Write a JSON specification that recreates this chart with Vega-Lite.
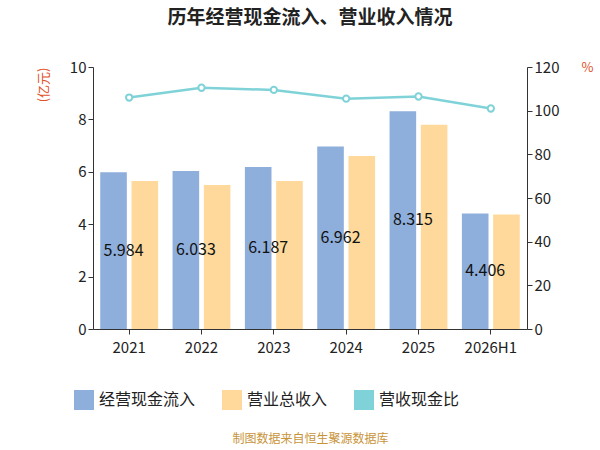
{
  "$schema": "https://vega.github.io/schema/vega-lite/v6.json",
  "width": 434,
  "height": 262,
  "autosize": "none",
  "padding": {"left": 93, "top": 67, "right": 73, "bottom": 121},
  "title": {"text": "历年经营现金流入、营业收入情况", "fontSize": 19, "font": "Noto Sans CJK SC", "fontWeight": "bold", "color": "#222", "offset": 32, "anchor": "middle"},
  "config": {"font": "Noto Sans CJK SC", "view": {"stroke": null}},
  "datasets": {
    "bars": [
      {"year": "2021", "type": "经营现金流入", "value": 5.984},
      {"year": "2021", "type": "营业总收入", "value": 5.65},
      {"year": "2022", "type": "经营现金流入", "value": 6.033},
      {"year": "2022", "type": "营业总收入", "value": 5.5},
      {"year": "2023", "type": "经营现金流入", "value": 6.187},
      {"year": "2023", "type": "营业总收入", "value": 5.65},
      {"year": "2024", "type": "经营现金流入", "value": 6.962},
      {"year": "2024", "type": "营业总收入", "value": 6.6},
      {"year": "2025", "type": "经营现金流入", "value": 8.315},
      {"year": "2025", "type": "营业总收入", "value": 7.8},
      {"year": "2026H1", "type": "经营现金流入", "value": 4.406},
      {"year": "2026H1", "type": "营业总收入", "value": 4.37}
    ],
    "ratio": [
      {"year": "2021", "type": "营收现金比", "ratio": 106},
      {"year": "2022", "type": "营收现金比", "ratio": 110.5},
      {"year": "2023", "type": "营收现金比", "ratio": 109.5},
      {"year": "2024", "type": "营收现金比", "ratio": 105.5},
      {"year": "2025", "type": "营收现金比", "ratio": 106.5},
      {"year": "2026H1", "type": "营收现金比", "ratio": 101}
    ]
  },
  "encoding": {
    "x": {"field": "year", "type": "nominal", "scale": {"paddingInner": 0.2, "paddingOuter": 0.1},
      "axis": {"labelAngle": 0, "labelFontSize": 15, "labelColor": "#222", "domainColor": "#333", "tickColor": "#333", "labelPadding": 6,
        "title": "制图数据来自恒生聚源数据库", "titleColor": "#c8943a", "titleFontSize": 12, "titleFontWeight": "normal", "titlePadding": 78}}
  },
  "layer": [
    {
      "data": {"name": "bars"},
      "mark": {"type": "bar"},
      "encoding": {
        "xOffset": {"field": "type", "scale": {"paddingInner": 0.15}},
        "y": {"field": "value", "type": "quantitative", "scale": {"domain": [0, 10]},
          "axis": {"values": [0, 2, 4, 6, 8, 10], "grid": false, "labelFontSize": 15, "labelColor": "#222", "domainColor": "#333", "tickColor": "#333",
            "title": "(亿元)", "titleColor": "#e0502a", "titleFontSize": 13, "titleFontWeight": "normal", "titleAngle": 270, "titleX": -50, "titleY": 0, "titleAlign": "right", "titleBaseline": "middle"}},
        "color": {"field": "type", "type": "nominal", "title": null,
          "scale": {"domain": ["经营现金流入", "营业总收入", "营收现金比"], "range": ["#8eaedb", "#fed99b", "#7fd3d8"]},
          "legend": {"orient": "none", "legendX": -20, "legendY": 322, "direction": "horizontal", "labelFontSize": 16, "labelColor": "#222", "symbolSize": 400, "symbolType": "square", "columnPadding": 25}}
      }
    },
    {
      "data": {"name": "bars"},
      "transform": [{"filter": "datum.type === '经营现金流入'"}, {"calculate": "datum.value / 2", "as": "mid"}],
      "mark": {"type": "text", "fontSize": 16, "color": "#111", "dx": 10},
      "encoding": {
        "xOffset": {"field": "type"},
        "y": {"field": "mid", "type": "quantitative", "scale": {"domain": [0, 10]}, "axis": null},
        "text": {"field": "value", "type": "quantitative", "format": ".3f"}
      }
    },
    {
      "data": {"name": "ratio"},
      "mark": {"type": "line", "color": "#7fd3d8", "strokeWidth": 2.5, "point": {"filled": true, "fill": "white", "stroke": "#7fd3d8", "size": 40, "strokeWidth": 2}},
      "encoding": {
        "y": {"field": "ratio", "type": "quantitative", "scale": {"domain": [0, 120]},
          "axis": {"orient": "right", "values": [0, 20, 40, 60, 80, 100, 120], "grid": false, "labelFontSize": 15, "labelColor": "#222", "domainColor": "#333", "tickColor": "#333",
            "title": "%", "titleColor": "#e0502a", "titleFontSize": 13, "titleFontWeight": "normal", "titleAngle": 0, "titleX": 60, "titleY": 0, "titleBaseline": "middle"}}
      }
    }
  ],
  "resolve": {"scale": {"y": "independent"}}
}
